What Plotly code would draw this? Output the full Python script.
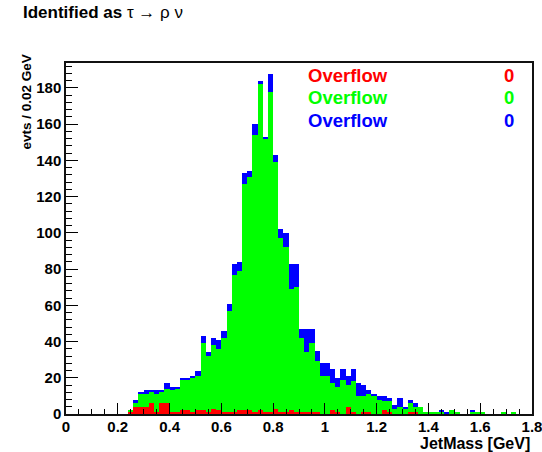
import numpy as np
import plotly.graph_objects as go

# JetMass histogram: 90 bins of 0.02 GeV from 0 to 1.8 GeV
bin_width = 0.02
bin_lo = np.round(np.arange(0.0, 1.8, bin_width), 4)
bin_centers = bin_lo + bin_width / 2

# all jets identified as tau -> rho nu (blue, drawn first)
counts_all = [
    0, 0, 0, 0, 0, 0, 0, 0, 0, 0, 0, 0,
    2, 8, 12, 13, 13, 13, 13, 17, 15, 15,
    20, 20, 21, 24, 43, 34, 42, 41, 46, 61,
    83, 84, 133, 134, 160, 184, 153, 188, 143, 102,
    100, 83, 83, 47, 47, 47, 35, 28, 28, 25,
    20, 25, 21, 25, 17, 16, 13, 11, 10, 10,
    9, 5, 9, 4, 8, 6, 4, 1, 1, 1,
    2, 1, 2, 1, 0, 0, 2, 1, 1, 0,
    0, 0, 1, 0, 1, 0, 0, 0,
]
# subset (green)
counts_green = [
    0, 0, 0, 0, 0, 0, 0, 0, 0, 0, 0, 0,
    2, 6, 11, 11, 12, 11, 12, 14, 13, 14,
    19, 19, 20, 21, 39, 32, 38, 36, 42, 57,
    77, 79, 127, 131, 154, 182, 152, 178, 139, 97,
    92, 69, 70, 42, 34, 39, 29, 21, 21, 17,
    15, 19, 16, 18, 10, 10, 11, 10, 8, 7,
    7, 3, 4, 3, 6, 4, 4, 1, 1, 1,
    1, 0, 2, 1, 0, 0, 1, 1, 1, 0,
    0, 0, 1, 0, 1, 0, 0, 0,
]
# subset (red)
counts_red = [
    0, 0, 0, 0, 0, 0, 0, 0, 0, 0, 0, 0,
    1, 4, 4, 4, 6, 1, 6, 6, 1, 1,
    2, 2, 1, 2, 2, 1, 3, 2, 1, 1,
    1, 2, 2, 2, 1, 2, 1, 1, 3, 1,
    1, 2, 1, 1, 1, 1, 1, 0, 0, 2,
    1, 0, 4, 1, 0, 1, 1, 0, 0, 2,
    1, 0, 0, 0, 1, 1, 0, 0, 0, 0,
    0, 0, 0, 0, 0, 0, 0, 0, 0, 0,
    0, 0, 0, 0, 0, 0, 0, 0,
]

series = [
    ("blue", "#0000FF", counts_all),
    ("green", "#00FF00", counts_green),
    ("red", "#FF0000", counts_red),
]
overflow = [("#FF0000", 0), ("#00FF00", 0), ("#0000FF", 0)]

fig = go.Figure()
for name, color, vals in series:
    fig.add_trace(go.Bar(
        x=bin_centers, y=vals, width=bin_width, name=name,
        marker=dict(color=color, line=dict(width=0)),
        showlegend=False,
    ))

W, H = 542, 452
ml, mr, mt, mb = 66, 10, 63, 38
pw, ph = W - ml - mr, H - mt - mb


def px_x(X):
    return (X - ml) / pw


def px_y(Y):
    return (H - mb - Y) / ph


bold = dict(family="Liberation Sans", size=15, color="black", weight="bold")
axis_common = dict(
    showgrid=False, zeroline=False, showline=True, linecolor="#111111",
    linewidth=1.5, mirror=True, ticks="inside", tickcolor="black",
    tickwidth=1, tickfont=bold, automargin=False, ticklabeloverflow="allow",
)

fig.update_layout(
    width=W, height=H, margin=dict(l=ml, r=mr, t=mt, b=mb, autoexpand=False),
    paper_bgcolor="white", plot_bgcolor="white",
    barmode="overlay", bargap=0,
    xaxis=dict(range=[0, 1.8], dtick=0.2, tick0=0, ticklen=11,
               ticklabelstandoff=-2,
               minor=dict(dtick=0.05, ticklen=5, ticks="inside",
                          tickcolor="black", showgrid=False),
               **axis_common),
    yaxis=dict(range=[0, 193.8], dtick=20, tick0=0, ticklen=12,
               minor=dict(dtick=4, ticklen=6, ticks="inside",
                          tickcolor="black", showgrid=False),
               **axis_common),
)

paper = dict(xref="paper", yref="paper", showarrow=False)
annotations = [
    dict(text="<b>Identified as</b> τ → ρ ν", x=px_x(21), y=px_y(12),
         xanchor="left", yanchor="middle",
         font=dict(family="Liberation Sans", size=17, color="black"), **paper),
    dict(text="JetMass [GeV]", x=1, y=px_y(443), xanchor="right",
         yanchor="middle",
         font=dict(family="Liberation Sans", size=16, color="black",
                   weight="bold"), **paper),
    dict(text="evts / 0.02 GeV", x=px_x(26), y=px_y(53), textangle=-90,
         xanchor="center", yanchor="top",
         font=dict(family="Liberation Sans", size=13.5, color="black",
                   weight="bold"), **paper),
]
for i, (color, n) in enumerate(overflow):
    yc = 75 + i * 22.5
    annotations.append(dict(text="Overflow", x=px_x(306), y=px_y(yc),
                            xanchor="left", yanchor="middle",
                            font=dict(family="Liberation Sans", size=18.5,
                                      color=color, weight="bold"), **paper))
    annotations.append(dict(text=str(n), x=px_x(516), y=px_y(yc),
                            xanchor="right", yanchor="middle",
                            font=dict(family="Liberation Sans", size=18.5,
                                      color=color, weight="bold"), **paper))
fig.update_layout(annotations=annotations)

fig.write_html("out.html")
